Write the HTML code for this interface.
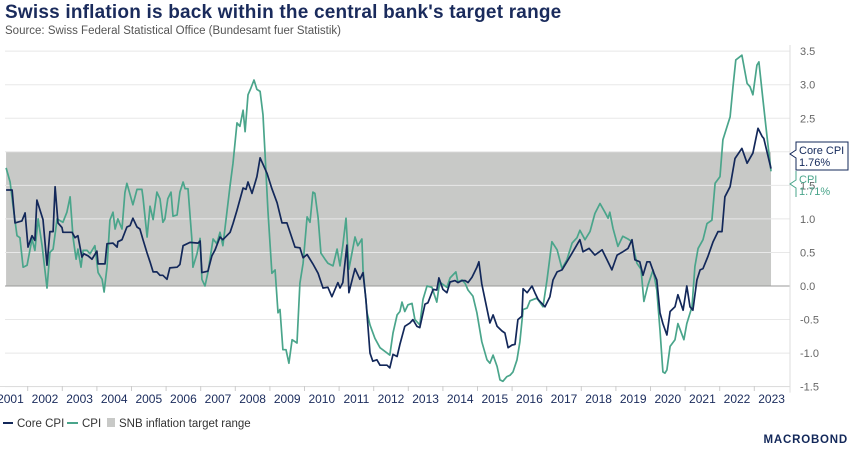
<!DOCTYPE html>
<html><head><meta charset="utf-8">
<style>
html,body{margin:0;padding:0;background:#fff;}
body{width:850px;height:453px;overflow:hidden;font-family:"Liberation Sans",sans-serif;position:relative;}
.title{position:absolute;left:5px;top:2px;font-size:19px;font-weight:bold;color:#1a2b5c;letter-spacing:0.2px;}
.sub{position:absolute;left:5px;top:25px;font-size:11.5px;color:#555;}
svg{position:absolute;left:0;top:0;}
</style></head>
<body>
<div class="title">Swiss inflation is back within the central bank's target range</div>
<div class="sub">Source: Swiss Federal Statistical Office (Bundesamt fuer Statistik)</div>
<svg id="chart" width="850" height="453"></svg>
<script>
// months since Jan 2001
const coreMonths=[4.5,6.6,7.6,10.0,11.1,12.1,13.5,14.5,15.2,17.3,18.7,19.7,20.8,21.5,22.5,23.9,24.2,27.4,28.4,29.4,30.8,31.5,32.9,34.3,36.0,36.4,38.8,39.5,41.6,43.0,43.3,44.7,46.4,47.5,48.5,49.9,50.9,52.0,53.4,54.4,55.5,56.8,57.9,58.9,60.3,61.3,63.8,64.8,65.9,68.3,71.1,71.8,72.4,74.5,75.9,77.0,78.7,79.7,82.2,83.2,84.6,86.7,87.7,88.4,89.8,91.5,92.6,95.0,96.7,98.5,100.2,101.9,104.7,106.4,107.5,108.9,110.9,112.7,114.4,116.1,117.5,119.6,120.3,121.3,122.7,123.4,125.5,127.2,128.3,129.3,130.7,131.7,133.1,134.2,136.6,137.6,138.7,140.1,141.1,142.8,144.6,145.6,147.0,148.0,149.8,150.8,152.6,153.9,154.6,156.0,157.4,158.5,160.2,161.2,162.6,163.7,164.7,166.1,167.8,168.5,169.5,170.6,172.3,173.4,174.8,176.5,177.5,178.6,180.0,181.0,182.0,183.4,183.8,185.2,186.9,187.9,189.0,191.4,193.1,194.2,195.6,197.3,199.0,200.8,203.5,204.6,206.7,208.7,211.2,212.9,214.6,216.4,218.4,220.2,221.6,222.6,224.3,225.4,226.8,227.8,229.2,230.2,231.3,232.3,233.7,234.8,236.5,237.5,239.3,240.6,241.7,242.7,244.1,245.2,246.2,247.9,249.7,251.4,252.8,253.8,255.6,257.3,259.7,261.5,263.5,265.3,266.7,267.3,269.8];
const coreValues=[1.43,1.43,0.94,0.97,1.09,0.58,0.75,0.68,1.28,0.99,0.31,0.81,0.81,1.48,0.94,0.87,0.8,0.8,0.72,0.75,0.43,0.48,0.45,0.4,0.52,0.33,0.33,0.63,0.64,0.58,0.66,0.69,0.88,0.9,1.01,0.88,0.85,0.69,0.49,0.36,0.21,0.21,0.16,0.16,0.1,0.27,0.28,0.32,0.6,0.65,0.64,0.67,0.2,0.22,0.45,0.54,0.73,0.69,0.8,0.93,1.13,1.46,1.44,1.55,1.38,1.63,1.91,1.68,1.45,1.24,0.94,0.94,0.58,0.57,0.42,0.47,0.33,0.19,-0.03,-0.02,-0.16,0.05,-0.03,0.05,0.61,-0.1,0.26,0.1,0.2,-0.2,-1.0,-1.12,-1.1,-1.18,-1.18,-1.22,-1.02,-1.05,-0.87,-0.6,-0.55,-0.5,-0.6,-0.62,-0.27,-0.25,-0.05,-0.06,0.12,-0.05,-0.1,0.06,0.08,0.05,0.08,0.08,0.05,0.13,0.28,0.36,0.03,-0.2,-0.55,-0.43,-0.6,-0.67,-0.7,-0.92,-0.88,-0.87,-0.5,-0.45,-0.04,-0.1,0.0,-0.1,-0.2,-0.31,-0.16,0.09,0.21,0.24,0.36,0.49,0.69,0.51,0.56,0.46,0.54,0.39,0.24,0.46,0.51,0.56,0.69,0.39,0.36,0.16,0.36,0.36,0.19,0.09,-0.4,-0.56,-0.73,-0.38,-0.31,-0.13,-0.36,0,-0.31,-0.36,0.09,0.24,0.26,0.44,0.66,0.81,0.81,1.33,1.48,1.9,2.05,1.83,1.98,2.35,2.23,2.2,1.75];
const cpiMonths=[4.5,5.9,6.9,8.3,9.3,10.4,11.8,13.5,14.5,15.6,17.0,18.7,19.7,20.8,22.2,24.2,25.6,26.7,27.7,28.8,29.4,30.5,31.2,32.6,33.6,35.3,36.4,37.8,38.5,39.5,40.5,41.6,42.3,43.3,44.7,45.7,46.4,47.5,48.5,49.9,51.6,52.0,53.4,54.4,55.5,56.8,57.9,58.9,59.6,60.6,61.7,62.4,63.8,64.8,65.9,66.6,67.6,68.9,69.3,70.7,71.8,72.4,73.5,74.5,76.3,77.6,78.7,79.7,81.1,82.2,83.2,84.6,85.6,86.7,87.4,88.4,89.4,90.5,91.5,92.6,93.6,94.3,95.3,96.7,97.8,98.8,99.5,100.5,101.6,102.6,103.7,105.4,106.4,107.5,108.9,109.9,110.9,111.6,112.7,113.7,115.1,116.1,117.9,119.3,120.3,121.3,122.4,123.4,125.5,126.5,127.9,128.3,129.7,130.7,132.4,134.2,137.6,138.7,140.1,141.1,141.8,142.8,143.9,145.3,146.3,148.0,149.1,150.5,152.2,153.9,154.9,157.4,158.5,160.5,161.2,162.6,163.7,164.7,166.4,167.8,169.5,171.3,172.3,173.4,174.8,175.8,176.8,178.2,179.3,180.3,181.7,182.7,183.8,185.2,186.2,188.6,190.7,192.1,193.8,195.6,197.3,199.0,200.8,202.5,203.5,205.3,207.0,208.7,210.5,212.2,213.3,213.9,215.0,216.7,218.4,220.2,221.6,223.3,224.7,225.7,227.1,228.9,230.2,231.3,232.3,233.0,233.7,234.8,236.5,237.5,239.6,240.6,242.4,243.4,244.5,246.2,247.6,249.3,250.4,252.1,253.1,255.6,256.6,257.6,259.7,261.5,262.5,263.5,264.9,265.6,267.0,268.4,269.8];
const cpiValues=[1.76,1.55,1.2,0.75,0.72,0.28,0.31,0.7,0.53,1.0,0.6,-0.03,0.5,0.55,1.0,0.95,1.1,1.33,0.73,0.4,0.55,0.28,0.53,0.53,0.48,0.6,0.2,0.1,-0.09,0.28,0.98,1.1,0.85,1.0,0.85,1.39,1.53,1.36,1.21,1.44,1.44,1.32,0.73,1.19,0.99,1.4,1.3,0.95,1.0,1.3,1.4,1.04,1.06,1.4,1.55,1.45,1.45,0.71,0.28,0.48,0.71,0.1,0.0,0.2,0.7,0.63,0.8,0.6,1.1,1.5,1.83,2.43,2.38,2.62,2.3,2.85,2.95,3.07,2.93,2.9,2.55,1.98,1.13,0.19,0.24,-0.4,-0.35,-0.95,-0.95,-1.15,-0.8,-0.85,0.04,0.34,1.03,0.95,1.4,1.38,1.02,0.49,0.4,0.34,0.3,0.55,0.3,0.6,1.01,0.25,0.73,0.6,0.7,0.25,-0.4,-0.58,-0.78,-0.92,-1.03,-0.7,-0.43,-0.38,-0.24,-0.38,-0.28,-0.26,-0.5,-0.58,-0.2,0.0,-0.02,-0.24,0.06,-0.02,0.12,0.21,0.06,0.09,0.04,-0.06,-0.15,-0.4,-0.83,-1.1,-1.15,-1.03,-1.2,-1.4,-1.42,-1.35,-1.33,-1.28,-1.1,-0.83,-0.35,-0.33,-0.22,-0.18,-0.31,0.09,0.66,0.54,0.26,0.39,0.64,0.72,0.83,0.69,0.81,1.08,1.23,1.1,1.01,1.1,0.86,0.59,0.74,0.7,0.66,0.34,0.25,-0.23,0.01,0.24,-0.06,-0.66,-1.28,-1.3,-1.25,-0.9,-0.8,-0.56,-0.8,-0.56,-0.31,0.29,0.56,0.69,0.93,0.98,1.53,1.63,2.18,2.52,2.97,3.37,3.44,3.02,2.97,2.85,3.29,3.34,2.77,2.23,1.71];
const yTicks=[3.5,3.0,2.5,2.0,1.5,1.0,0.5,0.0,-0.5,-1.0,-1.5];
const yTickLabels=["3.5","3.0","2.5","2.0","1.5","1.0","0.5","0.0","-0.5","-1.0","-1.5"];
const years=[2001,2002,2003,2004,2005,2006,2007,2008,2009,2010,2011,2012,2013,2014,2015,2016,2017,2018,2019,2020,2021,2022,2023];
const targetRange=[0,2];
const lastCore="1.76%", lastCpi="1.71%";

const NS="http://www.w3.org/2000/svg";
const svg=document.getElementById('chart');
const xm=m=>-6.9+m*34.6/12;
const yv=v=>286-v*67.1;
const PL=5, PR=790;
function mk(tag,attrs,parent){const e=document.createElementNS(NS,tag);for(const k in attrs)e.setAttribute(k,attrs[k]);(parent||svg).appendChild(e);return e;}

const band=mk('rect',{x:xm(coreMonths[0]),y:yv(targetRange[1]),width:xm(coreMonths[coreMonths.length-1])-xm(coreMonths[0]),height:yv(targetRange[0])-yv(targetRange[1]),fill:'#c8c9c7'});


yTicks.forEach((t,i)=>{
  if(t!==0){const g=mk('line',{x1:PL,x2:PR,y1:yv(t),y2:yv(t),stroke:'#e8e8e8','stroke-width':1});
  
  }
  const tx=mk('text',{x:800,y:yv(t)+4,'font-size':11,fill:'#666'});
  tx.textContent=yTickLabels[i];
  
  
});
const zl=mk('line',{x1:PL,x2:PR,y1:yv(0),y2:yv(0),stroke:'#9a9a9a','stroke-width':1});


const ra=mk('line',{x1:PR,x2:PR,y1:45,y2:yv(-1.5)+6,stroke:'#ddd','stroke-width':1});


const xa=mk('line',{x1:0,x2:PR,y1:386.5,y2:386.5,stroke:'#ddd','stroke-width':1});


years.forEach((yr,i)=>{
  const m0=(yr-2001)*12;
  if(i>0){const tk=mk('line',{x1:xm(m0),x2:xm(m0),y1:386,y2:391,stroke:'#ccc'});
  
  }
  const tx=mk('text',{x:xm(m0+6),y:403,'font-size':12,fill:'#1a2b5c','text-anchor':'middle'});
  tx.textContent=yr;
  
  
});
function line(ms,vs,color,name){
  const d=ms.map((m,i)=>(i?'L':'M')+xm(m).toFixed(1)+','+yv(vs[i]).toFixed(1)).join('');
  const p=mk('path',{d:d,fill:'none',stroke:color,'stroke-width':1.7,'stroke-linejoin':'round'});
  
  
}
line(cpiMonths,cpiValues,'#4aa58b','cpi-line');
line(coreMonths,coreValues,'#13285a','core-cpi-line');

const cb=mk('path',{d:'M796,142 H848 V170 H796 V158 L790,154 L796,150 Z',fill:'#fff',stroke:'#13285a','stroke-width':1});


const ct1=mk('text',{x:799,y:154,'font-size':11,fill:'#13285a'});ct1.textContent='Core CPI';


const ct2=mk('text',{x:799,y:166,'font-size':11,fill:'#13285a'});ct2.textContent=lastCore;


const gb=mk('path',{d:'M796,171 V180 L790,184 L796,188 V197',fill:'none',stroke:'#4aa58b','stroke-width':1});


const gt1=mk('text',{x:799,y:183,'font-size':11,fill:'#4aa58b'});gt1.textContent='CPI';


const gt2=mk('text',{x:799,y:195,'font-size':11,fill:'#4aa58b'});gt2.textContent=lastCpi;



const lg=mk('g',{});


const l1=mk('line',{x1:3,x2:13,y1:423,y2:423,stroke:'#13285a','stroke-width':2},lg);


const lt1=mk('text',{x:17,y:427,'font-size':11.5,fill:'#333'},lg);lt1.textContent='Core CPI';


const l2=mk('line',{x1:67,x2:78,y1:423,y2:423,stroke:'#4aa58b','stroke-width':2},lg);


const lt2=mk('text',{x:82,y:427,'font-size':11.5,fill:'#333'},lg);lt2.textContent='CPI';


const l3=mk('rect',{x:107,y:418,width:8,height:9,fill:'#c8c9c7'},lg);


const lt3=mk('text',{x:119,y:427,'font-size':11.5,fill:'#333'},lg);lt3.textContent='SNB inflation target range';



const logo=mk('text',{x:848,y:443,'font-size':11.5,'font-weight':'bold',fill:'#13285a','text-anchor':'end','letter-spacing':'0.8'});
logo.textContent='MACROBOND';


</script>
</body></html>
